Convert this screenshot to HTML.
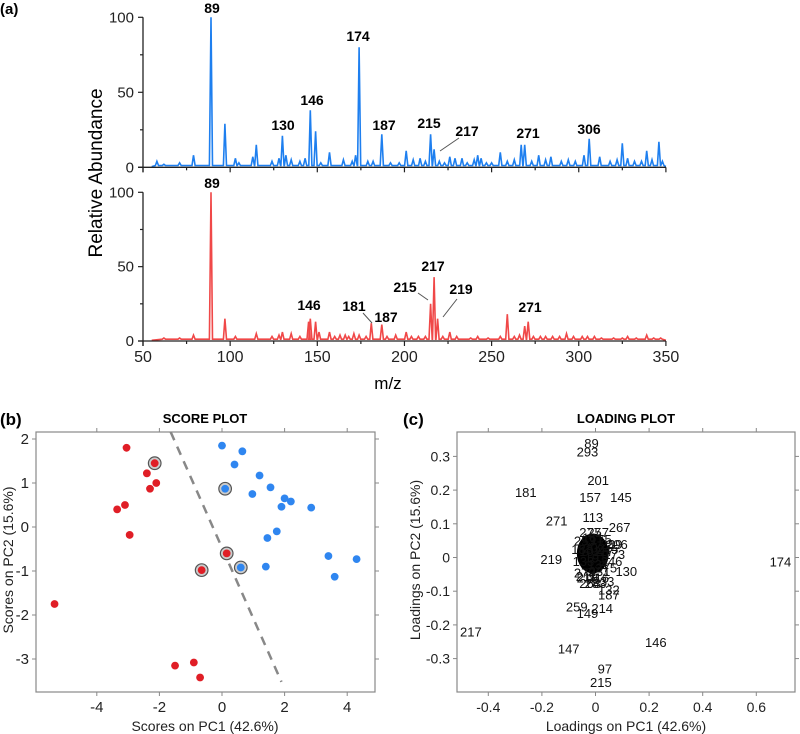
<!DOCTYPE html>
<html><head><meta charset="utf-8"><style>
body{margin:0;background:#fff;}
svg{display:block;font-family:"Liberation Sans",Arial,sans-serif;}
.b{font-weight:bold;}
</style></head><body>
<svg id="fig" width="800" height="734" viewBox="0 0 800 734" xmlns="http://www.w3.org/2000/svg">
<text x="0" y="14" class="b" font-size="15">(a)</text>
<g id="spec"></g>
<text x="388" y="389" font-size="17" text-anchor="middle">m/z</text>
<text transform="translate(102,173) rotate(-90)" font-size="19" text-anchor="middle">Relative Abundance</text>

<text x="0" y="425" class="b" font-size="17">(b)</text>
<text x="205" y="423" class="b" font-size="13" text-anchor="middle">SCORE PLOT</text>
<g id="score"></g>
<text x="205" y="731" font-size="14" text-anchor="middle" fill="#222">Scores on PC1 (42.6%)</text>
<text transform="translate(13,560) rotate(-90)" font-size="14" text-anchor="middle" fill="#222">Scores on PC2 (15.6%)</text>

<text x="403" y="425" class="b" font-size="17">(c)</text>
<text x="626" y="423" class="b" font-size="13" text-anchor="middle">LOADING PLOT</text>
<g id="load"></g>
<text x="626" y="731" font-size="14" text-anchor="middle" fill="#222">Loadings on PC1 (42.6%)</text>
<text transform="translate(420,560) rotate(-90)" font-size="14" text-anchor="middle" fill="#222">Loadings on PC2 (15.6%)</text>
</svg>
<script>
const blueMz=[58,62,71,79,89,97,103,105,113,115,124,128,130,132,135,140,143,146,149,152,157,165,170,172,174,179,182,187,192,197,201,205,209,212,215,217,220,223,226,229,233,236,240,242,244,247,250,255,259,263,267,269,273,277,281,284,290,294,298,303,306,312,318,322,325,328,332,336,339,342,346,348];
const blueInt=[4,2,3,8,100,29,6,3,7,15,4,6,21,8,5,4,6,38,24,3,10,5,4,8,80,4,4,22,3,3,11,5,6,4,22,12,4,3,7,6,6,3,5,8,6,3,3,10,4,5,15,15,4,8,5,7,4,5,4,8,19,7,4,5,16,6,4,4,11,5,17,4];
const redMz=[62,71,79,89,97,103,115,124,128,130,135,140,145,146,149,151,157,160,163,166,168,171,174,178,181,187,190,195,201,204,208,212,215,217,219,222,226,230,238,242,248,255,259,263,266,269,271,274,278,281,285,289,293,297,302,305,309,313,320,325,328,333,339,343,347];
const redInt=[2,2,4,100,15,3,5,3,4,6,5,3,13,15,13,6,6,3,4,4,3,5,4,3,12,11,3,4,6,3,3,3,25,43,15,3,6,3,2,3,2,3,18,3,4,10,13,3,3,3,3,3,5,3,3,3,3,2,2,2,3,2,4,2,2];
const xTicks=[50,100,150,200,250,300,350];
const yTicks=[0,50,100];
const scoreRedX=[-3.05,-2.15,-2.4,-2.1,-2.3,-3.1,-3.35,-2.95,-5.35,-0.65,0.15,-1.5,-0.9,-0.7];
const scoreRedY=[1.8,1.45,1.22,1.0,0.87,0.5,0.4,-0.18,-1.75,-0.98,-0.6,-3.15,-3.08,-3.42];
const scoreRedRing=[0,1,0,0,0,0,0,0,0,1,1,0,0,0];
const scoreBlueX=[0,0.65,0.4,1.2,1.55,0.1,0.97,2.0,2.2,1.9,2.85,1.75,1.45,3.4,4.3,3.6,1.4,0.6];
const scoreBlueY=[1.85,1.72,1.42,1.17,0.9,0.87,0.75,0.65,0.58,0.46,0.44,-0.1,-0.25,-0.66,-0.73,-1.13,-0.9,-0.92];
const scoreBlueRing=[0,0,0,0,0,1,0,0,0,0,0,0,0,0,0,0,0,1];
const scoreXTicks=[-4,-2,0,2,4];
const scoreYTicks=[2,1,0,-1,-2,-3];
const loadNames=["89","293","201","181","157","145","271","113","267","219","174","130","187","132","259","214","149","217","146","147","97","215"];
const loadX=[-0.015,-0.03,0.01,-0.26,-0.02,0.095,-0.145,-0.01,0.09,-0.165,0.69,0.115,0.05,0.05,-0.07,0.025,-0.03,-0.465,0.225,-0.1,0.035,0.02];
const loadY=[0.34,0.315,0.23,0.195,0.18,0.18,0.11,0.12,0.09,-0.005,-0.012,-0.04,-0.11,-0.095,-0.145,-0.15,-0.165,-0.22,-0.25,-0.27,-0.33,-0.37];
const clusterNames=["277","257","253","183","133","206","289","173","246","275","279","211","218","283","263","216","233","161","175","191","102","117","131","203","245","231"];
const clusterX=[-0.02,0.01,-0.04,-0.05,-0.045,0.08,0.06,0.07,0.06,0.04,-0.04,-0.035,-0.03,0.0,-0.02,0.01,0.03,-0.01,0.02,0.0,-0.02,0.03,0.01,-0.005,0.045,0.015];
const clusterY=[0.075,0.075,0.05,0.025,-0.01,0.04,0.04,0.01,-0.01,-0.03,-0.045,-0.055,-0.06,-0.075,-0.075,-0.06,-0.07,0.06,0.055,0.0,0.02,0.02,-0.02,0.03,0.025,-0.04];
const loadXTicks=[-0.4,-0.2,0,0.2,0.4,0.6];
const loadYTicks=[0.3,0.2,0.1,0,-0.1,-0.2,-0.3];

const NS="http://www.w3.org/2000/svg";
function mk(parent,tag,attrs,name){const e=document.createElementNS(NS,tag);for(const k in attrs)e.setAttribute(k,attrs[k]);


parent.appendChild(e);return e;}
function txt(parent,x,y,s,size,anchor,name,extra){const t=mk(parent,'text',Object.assign({x:x,y:y,'font-size':size,'text-anchor':anchor},extra||{}),name);t.textContent=s;return t;}

// spectra
const spec=document.getElementById('spec');
const mx=v=>143+(v-50)*1.743;
const topY=v=>167.3-v*1.5;
const botY=v=>341-v*1.487;
function spectrum(mzs,ints,yf,color,name){
  let pts=[[mx(55),yf(0.5)]];
  mzs.forEach((m,i)=>{pts.push([mx(m-0.9),yf(1.2)]);pts.push([mx(m),yf(ints[i])]);pts.push([mx(m+0.9),yf(1.2)]);});
  pts.push([mx(350),yf(0.5)]);
  mk(spec,'polyline',{points:pts.map(p=>p[0].toFixed(1)+','+p[1].toFixed(1)).join(' '),fill:'none',stroke:color,'stroke-width':1.6},name);
}
function axes(yf,labelX,prefix){
  mk(spec,'line',{x1:143,x2:143,y1:yf(100),y2:yf(0)+5,stroke:'#222','stroke-width':1.3},prefix+'-y-axis');
  mk(spec,'line',{x1:138,x2:666,y1:yf(0),y2:yf(0),stroke:'#222','stroke-width':1.3},prefix+'-x-axis');
  [0,25,50,75,100].forEach(v=>mk(spec,'line',{x1:143,x2:v%50?140:138,y1:yf(v),y2:yf(v),stroke:'#222','stroke-width':1.2},prefix+'-y-tick'));
  yTicks.forEach(v=>txt(spec,134,yf(v)+5,String(v),15,'end',prefix+'-y-tick-label',{fill:'#222'}));
  for(let m=50;m<=350;m+=25)mk(spec,'line',{x1:mx(m),x2:mx(m),y1:yf(0),y2:yf(0)+(m%50?3:5),stroke:'#222','stroke-width':1.2},prefix+'-x-tick');
  if(labelX)xTicks.forEach(v=>txt(spec,mx(v),362,String(v),16,'middle','x-tick-label',{fill:'#222'}));
}
spectrum(blueMz,blueInt,topY,'#1e7fef','blue-spectrum-line');
spectrum(redMz,redInt,botY,'#f04848','red-spectrum-line');
axes(topY,false,'top');
axes(botY,true,'bottom');
const topLabels=[["89",212,13],["174",358,41],["146",312,105],["130",283,130],["187",384,130],["215",429,128],["217",467,136],["271",528,138],["306",589,134]];
topLabels.forEach(l=>txt(spec,l[1],l[2],l[0],14,'middle','top-peak-label-'+l[0],{class:'b'}));
const botLabels=[["89",212,188],["146",309,310],["181",354,311],["187",386,322],["215",405,292],["217",433,271],["219",461,294],["271",530,312]];
botLabels.forEach(l=>txt(spec,l[1],l[2],l[0],14,'middle','bottom-peak-label-'+l[0],{class:'b'}));
[[459,138,440,151,'leader-217-top'],[363,313,372,323,'leader-181'],[418,293,428,300,'leader-215-bottom'],[457,299,443,317,'leader-219']].forEach(l=>mk(spec,'line',{x1:l[0],y1:l[1],x2:l[2],y2:l[3],stroke:'#555','stroke-width':1},l[4]));

// score plot
const sc=document.getElementById('score');
const sx=v=>222+v*31.3, sy=v=>527-v*44;
mk(sc,'rect',{x:36,y:432,width:339,height:260,fill:'none',stroke:'#888','stroke-width':1.2},'score-plot-frame');
scoreXTicks.forEach(v=>{mk(sc,'line',{x1:sx(v),x2:sx(v),y1:692,y2:696,stroke:'#888'},'score-x-tick');mk(sc,'line',{x1:sx(v),x2:sx(v),y1:432,y2:428,stroke:'#888'},'score-x-tick-top');txt(sc,sx(v),712,String(v),15,'middle','score-x-tick-label',{fill:'#222'});});
scoreYTicks.forEach(v=>{mk(sc,'line',{x1:32,x2:36,y1:sy(v),y2:sy(v),stroke:'#888'},'score-y-tick');mk(sc,'line',{x1:375,x2:379,y1:sy(v),y2:sy(v),stroke:'#888'},'score-y-tick-right');txt(sc,29,sy(v)+5,String(v),15,'end','score-y-tick-label',{fill:'#222'});});
mk(sc,'line',{x1:sx(-1.64),y1:sy(2.16),x2:sx(1.9),y2:sy(-3.52),stroke:'#888','stroke-width':2.5,'stroke-dasharray':'9,7'},'separation-line');
function dots(X,Y,R,color,name){X.forEach((x,i)=>{if(R[i])mk(sc,'circle',{cx:sx(x),cy:sy(Y[i]),r:6.3,fill:'#ccc',stroke:'#555','stroke-width':1.2},name+'-ring');mk(sc,'circle',{cx:sx(x),cy:sy(Y[i]),r:3.9,fill:color},name);});}
dots(scoreRedX,scoreRedY,scoreRedRing,'#e01e26','red-score-point');
dots(scoreBlueX,scoreBlueY,scoreBlueRing,'#2f86f0','blue-score-point');

// loading plot
const ld=document.getElementById('load');
const lx=v=>595.5+v*268, ly=v=>557.5-v*337;
mk(ld,'rect',{x:457,y:432,width:338,height:260,fill:'none',stroke:'#888','stroke-width':1.2},'loading-plot-frame');
loadXTicks.forEach(v=>{mk(ld,'line',{x1:lx(v),x2:lx(v),y1:692,y2:696,stroke:'#888'},'loading-x-tick');mk(ld,'line',{x1:lx(v),x2:lx(v),y1:432,y2:428,stroke:'#888'},'loading-x-tick-top');txt(ld,lx(v),712,String(v),14,'middle','loading-x-tick-label',{fill:'#222'});});
loadYTicks.forEach(v=>{mk(ld,'line',{x1:453,x2:457,y1:ly(v),y2:ly(v),stroke:'#888'},'loading-y-tick');mk(ld,'line',{x1:795,x2:799,y1:ly(v),y2:ly(v),stroke:'#888'},'loading-y-tick-right');txt(ld,450,ly(v)+5,String(v),14,'end','loading-y-tick-label',{fill:'#222'});});
mk(ld,'ellipse',{cx:lx(-0.01),cy:ly(0.012),rx:16,ry:20,fill:'#000'},'loading-cluster-blob');
clusterNames.forEach((n,i)=>txt(ld,lx(clusterX[i]),ly(clusterY[i])+5,n,13,'middle','loading-label-'+n,{fill:'#111'}));
loadNames.forEach((n,i)=>txt(ld,lx(loadX[i]),ly(loadY[i])+5,n,13,'middle','loading-label-'+n,{fill:'#111'}));
</script>
</body></html>
